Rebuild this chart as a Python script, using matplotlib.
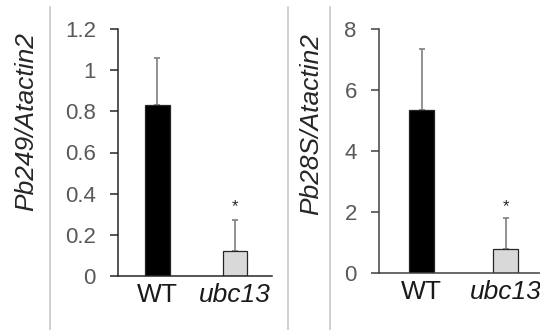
import matplotlib
matplotlib.use("Agg")
import matplotlib.pyplot as plt
from matplotlib.lines import Line2D

plt.rcParams["font.family"] = ["Liberation Sans", "DejaVu Sans"]

genotypes = ["WT", "ubc13"]
pb249_mean = [0.83, 0.12]
pb249_err = [0.23, 0.15]
pb28s_mean = [5.35, 0.80]
pb28s_err = [2.0, 1.0]
pb249_ticks = [0, 0.2, 0.4, 0.6, 0.8, 1.0, 1.2]
pb249_ticklabels = ["0", "0.2", "0.4", "0.6", "0.8", "1", "1.2"]
pb28s_ticks = [0, 2, 4, 6, 8]
pb28s_ticklabels = ["0", "2", "4", "6", "8"]
star_249 = 0.335
star_28s = 2.16

GRAY_TXT = "#595959"
BAR_COLORS = ["black", "#d9d9d9"]

fig = plt.figure(figsize=(5.4, 3.3), dpi=100)
W, H = 540, 330

def px_axes(x0, x1, ytop, ybot):
    return fig.add_axes([x0 / W, 1 - ybot / H, (x1 - x0) / W, (ybot - ytop) / H])

def panel(ax, means, errs, ticks, ticklabels, ymax, star, xlim, width, axcol):
    x = [0, 1]
    ax.bar(x, means, width=width, color=BAR_COLORS, edgecolor="#262626", lw=0.9, zorder=2)
    ax.errorbar(x, means, yerr=[[0, 0], errs], fmt="none", ecolor="#7f7f7f",
                elinewidth=1.2, capsize=2.5, capthick=1.2, zorder=1)
    ax.text(1, star, "*", ha="center", va="center", fontsize=12, color="#262626")
    ax.set_xlim(*xlim); ax.set_ylim(0, ymax)
    ax.set_yticks(ticks); ax.set_yticklabels(ticklabels)
    ax.set_xticks(x); ax.set_xticklabels(genotypes)
    ax.get_xticklabels()[1].set_style("italic")
    for s in ["top", "right"]:
        ax.spines[s].set_visible(False)
    for s in ["left", "bottom"]:
        ax.spines[s].set_color(axcol); ax.spines[s].set_linewidth(1.1)
    ax.tick_params(axis="y", direction="out", length=6, width=1.1, color=axcol,
                   labelsize=16, labelcolor=GRAY_TXT, pad=10)
    ax.tick_params(axis="x", length=0, labelsize=19, labelcolor="#1a1a1a", pad=5)
    ax.patch.set_alpha(0)

ax1 = px_axes(118, 272, 29, 276)
panel(ax1, pb249_mean, pb249_err, pb249_ticks, pb249_ticklabels, 1.2, star_249,
      (-0.508, 1.476), 0.32, "#262626")
ax2 = px_axes(379, 540, 29, 273)
panel(ax2, pb28s_mean, pb28s_err, pb28s_ticks, pb28s_ticklabels, 8, star_28s,
      (-0.506, 1.41), 0.30, "#404040")

fig.text(26 / W, 1 - 122 / H, "Pb249/Atactin2", rotation=90, ha="center", va="center",
         fontsize=19, style="italic", color="#262626")
fig.text(311 / W, 1 - 124 / H, "Pb28S/Atactin2", rotation=90, ha="center", va="center",
         fontsize=19, style="italic", color="#262626")

for xd in [50, 288, 330]:
    fig.add_artist(Line2D([xd / W, xd / W], [0, 1 - 7 / H], color="#c8c8c8", lw=1.2))

fig.savefig("out.png", dpi=100)
